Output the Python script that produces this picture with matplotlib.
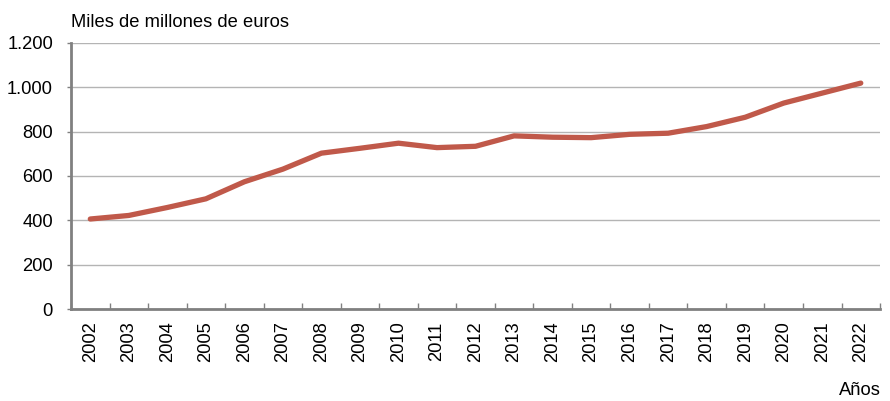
import numpy as np
import matplotlib.pyplot as plt
from matplotlib.ticker import FixedLocator, FuncFormatter

plt.rcParams['font.family'] = ['Liberation Sans', 'DejaVu Sans']

# --- DATA ---
years = [str(y) for y in range(2002, 2023)]
values = [406, 422, 458, 497, 574, 631, 703, 725, 748, 728, 734,
          781, 775, 773, 788, 793, 823, 865, 929, 974, 1019]
yticks = [0, 200, 400, 600, 800, 1000, 1200]

line_color = '#c0594a'
axis_color = '#808080'
grid_color = '#b4b4b4'
fs = 13.2

fig = plt.figure(figsize=(8.9, 4.01), dpi=100)
ax = fig.add_axes([0.0798, 0.2294, 0.9090, 0.6634])

x = np.arange(len(years))
ax.plot(x, values, color=line_color, linewidth=3.8, solid_capstyle='round',
        solid_joinstyle='round', zorder=3)

ax.set_xlim(-0.5, len(years) - 0.5)
ax.set_ylim(0, 1200)

# y axis
ax.set_yticks(yticks)
ax.yaxis.set_major_formatter(FuncFormatter(lambda v, p: f"{int(v):,}".replace(',', '.')))
ax.tick_params(axis='y', length=3, width=1, color=axis_color, labelsize=fs, pad=10)
ax.grid(axis='y', color=grid_color, linewidth=1, zorder=1)

# x axis: labels centred, ticks on category boundaries
ax.set_xticks(x)
ax.set_xticklabels(years, rotation=90)
ax.tick_params(axis='x', which='major', length=0, labelsize=fs, pad=9)
ax.xaxis.set_minor_locator(FixedLocator(np.arange(-0.5, len(years), 1.0)))
ax.tick_params(axis='x', which='minor', direction='in', length=4, width=1, color=axis_color)

for side in ['top', 'right']:
    ax.spines[side].set_visible(False)
for side in ['left', 'bottom']:
    ax.spines[side].set_color(axis_color)
    ax.spines[side].set_linewidth(2)

fig.text(0.0798, 0.945, 'Miles de millones de euros', fontsize=fs, ha='left', va='center')
fig.text(0.99, 0.025, 'Años', fontsize=fs, ha='right', va='center')

fig.savefig('out.png', dpi=100)
